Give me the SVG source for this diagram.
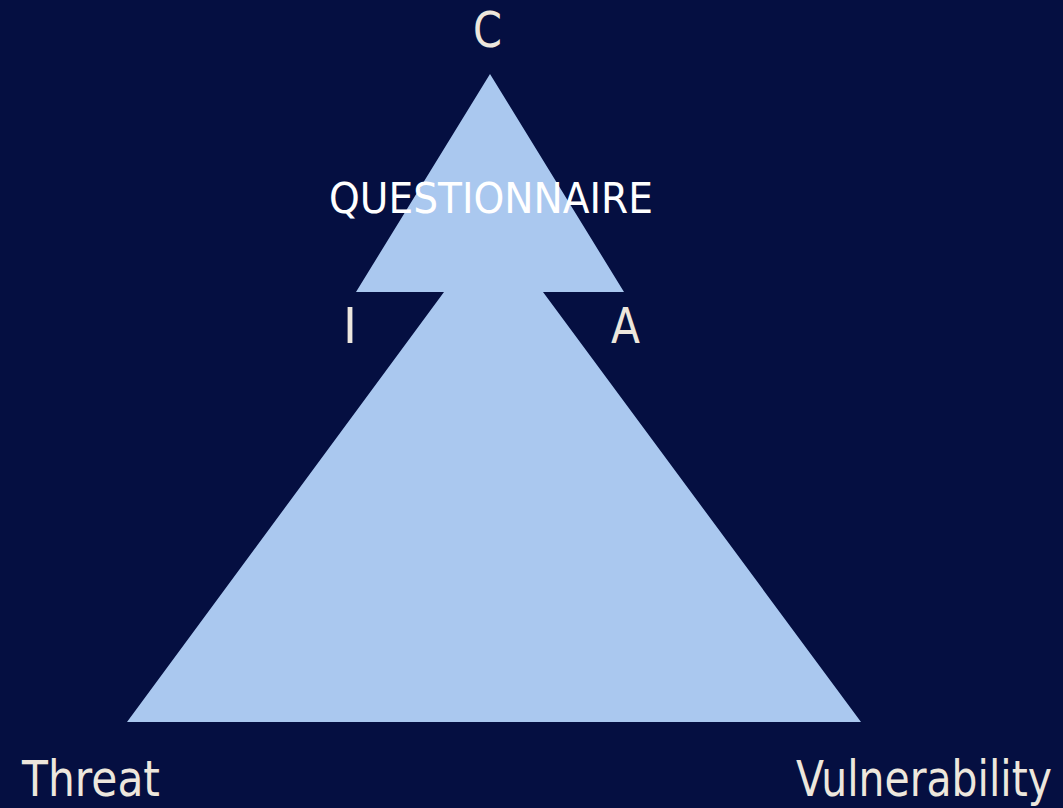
<svg xmlns="http://www.w3.org/2000/svg" width="1063" height="808" viewBox="0 0 1063 808">
<style>
.lbl{font-family:"DejaVu Sans","Liberation Sans",sans-serif;fill:#ede7dd;font-size:50px}
.q{font-family:"DejaVu Sans","Liberation Sans",sans-serif;fill:#ffffff;font-size:43px}
.shape{fill:#aac8ef}
</style>
<rect width="1063" height="808" fill="#050f41"/>
<g id="triangle">
<polygon class="shape" points="490,74 624,292 543,292 861,722 127,722 444,292 356,292"/>
</g>
<g id="connectors"></g>
<g id="label-c"><text class="lbl" x="473" y="47" textLength="29" lengthAdjust="spacingAndGlyphs">C</text></g>
<g id="label-q"><text class="q" x="329" y="213" textLength="324" lengthAdjust="spacingAndGlyphs">QUESTIONNAIRE</text></g>
<g id="label-i"><text class="lbl" x="343" y="343" textLength="14" lengthAdjust="spacingAndGlyphs">I</text></g>
<g id="label-a"><text class="lbl" x="611" y="343" textLength="29" lengthAdjust="spacingAndGlyphs">A</text></g>
<g id="label-threat"><text class="lbl" x="22" y="796" textLength="138" lengthAdjust="spacingAndGlyphs">Threat</text></g>
<g id="label-vuln"><text class="lbl" x="796" y="796" font-size="49" textLength="256" lengthAdjust="spacingAndGlyphs">Vulnerability</text></g>
</svg>
